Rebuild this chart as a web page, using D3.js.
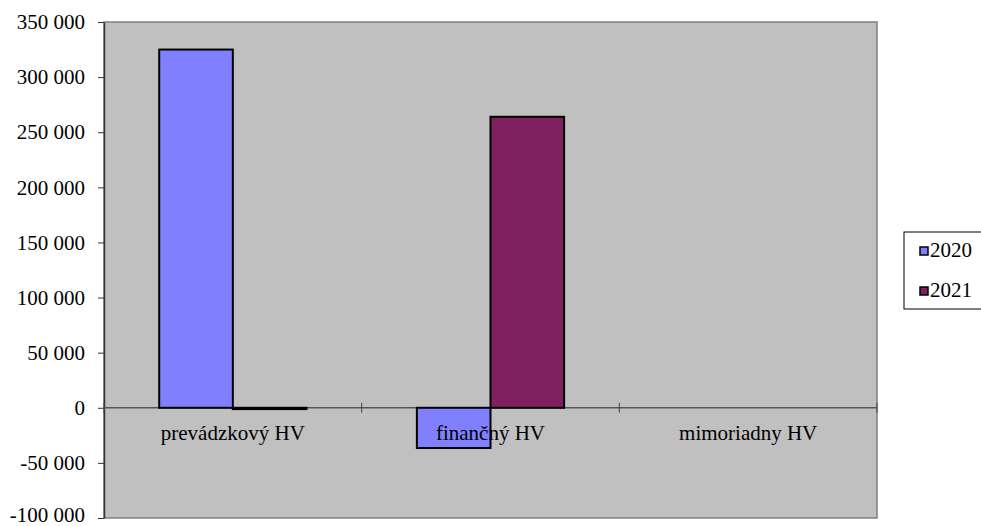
<!DOCTYPE html>
<html><head><meta charset="utf-8">
<script src="https://cdn.jsdelivr.net/npm/d3@7"></script>
<style>body{margin:0;background:#fff}svg{display:block}</style>
</head><body><svg id="c" width="981" height="526"></svg>
<script>
const categories = ["prevádzkový HV", "finančný HV", "mimoriadny HV"];
const seriesNames = ["2020", "2021"];
const values2020 = [325000, -36500, 0];
const values2021 = [-1200, 264000, 0];
const yTicks = [-100000, -50000, 0, 50000, 100000, 150000, 200000, 250000, 300000, 350000];
const colors = ["#8080FF", "#802060"];

const FONT = "'Liberation Serif', 'Times New Roman', 'DejaVu Serif', serif";
const FS = 21;
const svg = d3.select("#c");
const L = 104, R = 877, T = 22, B = 518;
const x = d3.scaleBand().domain(categories).range([L, R]).paddingInner(0).paddingOuter(0);
const y = d3.scaleLinear().domain([-100000, 350000]).range([B, T]);
const fmt = v => (v < 0 ? "-" : "") + d3.format(",")(Math.abs(v)).replace(/,/g, " ");

svg.append("rect").attr("x", L).attr("y", T).attr("width", R - L).attr("height", B - T)
  .attr("fill", "#C0C0C0").attr("stroke", "#808080").attr("stroke-width", 1.5);

// y axis
const ya = svg.append("g").attr("transform", `translate(${L},0)`)
  .call(d3.axisLeft(y).tickValues(yTicks).tickFormat(fmt).tickSizeInner(6).tickSizeOuter(0).tickPadding(13));
ya.attr("font-family", FONT).attr("font-size", FS);
ya.select(".domain").attr("stroke", "#333").attr("stroke-width", 1.5);
ya.selectAll(".tick line").attr("stroke", "#333");
ya.selectAll("text").attr("font-family", FONT).attr("font-size", FS).attr("fill", "#000")
  .attr("y", d => d === yTicks[0] ? -3 : 0);

// zero baseline with category ticks
const y0 = y(0);
svg.append("line").attr("x1", L).attr("x2", R).attr("y1", y0).attr("y2", y0)
  .attr("stroke", "#555").attr("stroke-width", 1.5);
const catEdges = [L, ...categories.map(c => x(c) + x.bandwidth())];
svg.selectAll(".ctick").data(catEdges).enter().append("line")
  .attr("x1", d => d).attr("x2", d => d).attr("y1", y0 - 5).attr("y2", y0 + 5)
  .attr("stroke", "#444").attr("stroke-width", 1);

// bars
const groupW = x.bandwidth() / 3.5 * 2;
const xs = d3.scaleBand().domain(seriesNames).range([0, groupW]);
const series = [values2020, values2021];
series.forEach((vals, si) => {
  svg.append("g").selectAll("rect").data(categories).enter().append("rect")
    .attr("x", (c) => x(c) + (x.bandwidth() - groupW) / 2 + xs(seriesNames[si]))
    .attr("width", xs.bandwidth())
    .attr("y", (c, i) => y(Math.max(0, vals[i])))
    .attr("height", (c, i) => Math.abs(y(vals[i]) - y(0)))
    .attr("fill", colors[si]).attr("stroke", "#000").attr("stroke-width", 2)
    .style("display", (c, i) => vals[i] === 0 ? "none" : null);
});

// category labels
svg.selectAll(".clab").data(categories).enter().append("text")
  .attr("x", c => x(c) + x.bandwidth() / 2).attr("y", y0 + 32)
  .attr("text-anchor", "middle").attr("font-family", FONT).attr("font-size", FS).attr("fill", "#000")
  .text(c => c);

// legend
const lg = svg.append("g");
lg.append("rect").attr("x", 904).attr("y", 232).attr("width", 90).attr("height", 77)
  .attr("fill", "#fff").attr("stroke", "#000").attr("stroke-width", 1);
seriesNames.forEach((s, i) => {
  const yy = 257 + i * 40;
  lg.append("rect").attr("x", 920).attr("y", yy - 10).attr("width", 8).attr("height", 8)
    .attr("fill", colors[i]).attr("stroke", "#000").attr("stroke-width", 1.5);
  lg.append("text").attr("x", 930).attr("y", yy).attr("font-family", FONT).attr("font-size", FS).attr("fill", "#000").text(s);
});
</script></body></html>
